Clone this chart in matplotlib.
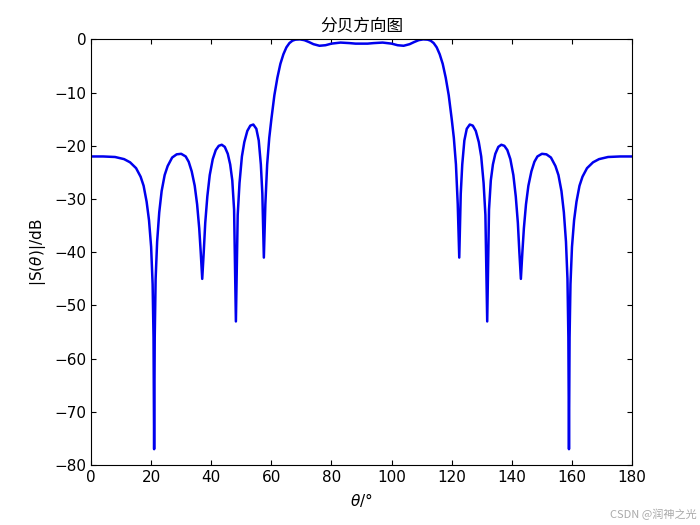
import numpy as np
import matplotlib
matplotlib.use('Agg')
import matplotlib.pyplot as plt

plt.rcParams['font.family'] = ['DejaVu Sans', 'Noto Sans CJK SC']

# left half of the pattern (pattern is symmetric about 90 deg)
theta_left = [0, 4, 8, 11, 13, 15, 16.5, 17.5, 18.5, 19.3, 20, 20.5, 20.8, 21, 21.2,
              21.5, 22, 22.7, 23.5, 24.5, 25.5, 27, 28.5, 30, 31.5, 32.5, 33.5, 34.5,
              35.3, 36, 36.5, 37, 37.5, 38, 38.7, 39.5, 40.5, 41.5, 42.5, 43.5, 44.5,
              45.5, 46.3, 47, 47.6, 48.2, 48.8, 49.4, 50.2, 51, 52, 53, 54, 55, 55.8,
              56.5, 57, 57.5, 58, 58.6, 59.3, 60, 61, 62, 63, 64, 65, 66, 67, 68,
              69.5, 71, 72.5, 74, 76, 78, 80, 83, 86, 88, 90]
db_left = [-22, -22, -22.1, -22.5, -23.1, -24.2, -25.8, -27.5, -30.5, -34, -39, -46,
           -56, -77, -56, -45, -38, -32.5, -28.5, -25.5, -23.8, -22.2, -21.6, -21.5,
           -22, -23, -24.8, -27.5, -31, -35.5, -40, -45, -40, -34.5, -29.5, -25.5,
           -22.5, -20.8, -20, -19.8, -20.2, -21.5, -23.5, -26.5, -32, -53, -33, -27,
           -22, -19.3, -17.2, -16.2, -16, -16.8, -19, -23.5, -29, -41, -31, -23.5,
           -18.5, -15, -10.5, -7.2, -4.6, -2.8, -1.5, -0.7, -0.25, -0.05, 0, -0.15,
           -0.5, -0.9, -1.2, -1.1, -0.8, -0.6, -0.7, -0.8, -0.8]

theta = np.concatenate([theta_left, 180 - np.array(theta_left[::-1][1:])])
db = np.concatenate([db_left, db_left[::-1][1:]])

fig = plt.figure(figsize=(7, 5.25), dpi=100)
ax = fig.add_axes([0.13, 0.114, 0.773, 0.811])
ax.plot(theta, db, color='#0000ee', linewidth=1.8)
ax.set_xlim(0, 180)
ax.set_ylim(-80, 0)
ax.set_xticks(range(0, 181, 20))
ax.set_yticks(range(-80, 1, 10))
ax.tick_params(direction='in', top=True, right=True, labelsize=11)
ax.set_title('分贝方向图', family=['Noto Sans CJK SC'], fontsize=12)
ax.set_xlabel(r'$\theta$/°', fontsize=11)
ax.set_ylabel(r'|S($\theta$)|/dB', fontsize=11)
fig.text(0.995, 0.01, 'CSDN @润神之光', ha='right', va='bottom', color='#aaaaaa',
         fontsize=8, family=['Noto Sans CJK SC'])
fig.savefig('out.png')
